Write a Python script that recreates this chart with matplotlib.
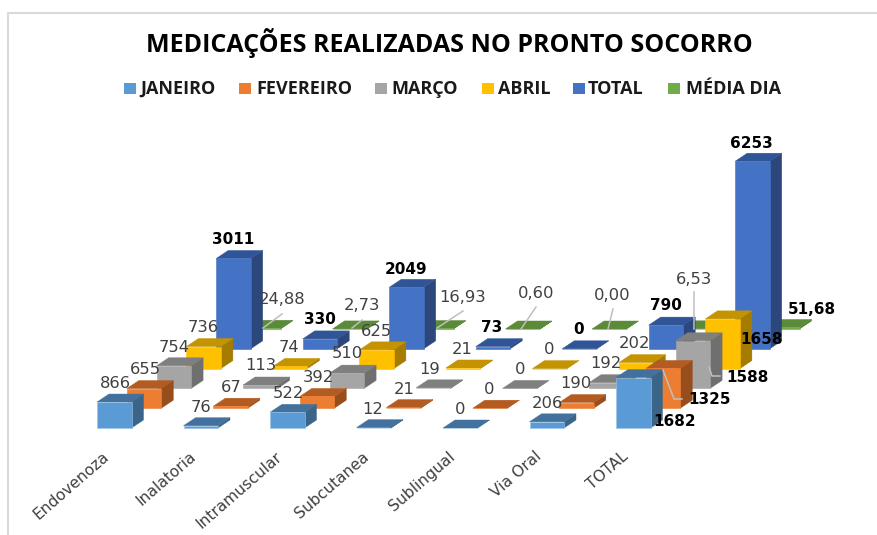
import matplotlib
matplotlib.use("Agg")
import matplotlib.pyplot as plt
from matplotlib.patches import Rectangle
from matplotlib.transforms import Affine2D

W, H = 877, 535

categories = ['Endovenoza', 'Inalatoria', 'Intramuscular', 'Subcutanea', 'Sublingual', 'Via Oral', 'TOTAL']
series = ['JANEIRO', 'FEVEREIRO', 'MARÇO', 'ABRIL', 'TOTAL', 'MÉDIA DIA']

janeiro = [866, 76, 522, 12, 0, 206, 1682]
fevereiro = [655, 67, 392, 21, 0, 190, 1325]
marco = [754, 113, 510, 19, 0, 192, 1588]
abril = [736, 74, 625, 21, 0, 202, 1658]
total = [3011, 330, 2049, 73, 0, 790, 6253]
media_dia = [24.88, 2.73, 16.93, 0.60, 0.00, 6.53, 51.68]
rows = [janeiro, fevereiro, marco, abril, total, media_dia]

# front, top, side
colors = [('#5B9BD5', '#41719C', '#3A6488'),
          ('#ED7D31', '#B35B20', '#984D1C'),
          ('#A5A5A5', '#7F7F7F', '#6F6F6F'),
          ('#FFC000', '#C49400', '#A67C00'),
          ('#4472C4', '#2F5597', '#2B477B'),
          ('#70AD47', '#5B8A38', '#4D7A30')]

# label centres in pixels, one list per series
label_pos = [
    [(115, 383), (201, 407), (288, 394), (373, 409), (460, 409), (547, 404), (675, 422)],
    [(145, 370), (231, 387), (318, 377), (404, 390), (489, 389), (576, 384), (710, 400)],
    [(174, 347), (261, 366), (347, 354), (430, 369), (520, 369), (606, 364), (748, 377)],
    [(203, 328), (289, 347), (376, 331), (462, 349), (549, 350), (635, 344), (762, 339)],
    [(233, 239), (320, 319), (406, 269), (492, 328), (579, 329), (666, 306), (751, 143)],
    [(282, 300), (362, 306), (463, 297), (536, 293), (612, 296), (694, 279), (812, 309)],
]

leaders = [
    [(282, 314), (263, 328)],
    [(362, 320), (352, 328)],
    [(463, 311), (437, 328)],
    [(536, 307), (521, 329)],
    [(613, 309), (608, 329)],
    [(694, 292), (694, 329)],
    [(682, 399), (674, 399), (663, 370)],
    [(720, 376), (712, 376), (709, 367)],
]

legend_pos = [(124, 140), (239, 256), (375, 391), (482, 498), (573, 588), (668, 686)]

# pixels per category, pixels per value unit, oblique step of one series row
px_cat = 86.5
px_val = 0.03
row_dx = 29.8 / px_cat
row_dy = 19.8 / px_val
bar_w = 34.5 / px_cat
bar_dx = 12 / px_cat
bar_dy = 8 / px_val

fig = plt.figure(figsize=(W / 100, H / 100), dpi=100)
ax = fig.add_axes([0, 0, 1, 1])
ax.set_xlim(-97 / px_cat, (W - 97) / px_cat)
ax.set_ylim(-(H - 428) / px_val, 428 / px_val)
ax.axis('off')

px = Affine2D().scale(1 / W, -1 / H).translate(0, 1) + fig.transFigure


def draw_bar(c, r, v, cols):
    x0 = c + r * row_dx
    y0 = r * row_dy
    x1 = x0 + bar_w
    top = y0 + v
    ax.fill([x1, x1 + bar_dx, x1 + bar_dx, x1], [y0, y0 + bar_dy, top + bar_dy, top], color=cols[2], lw=0.3, zorder=2 + 6 - r)
    ax.fill([x0, x1, x1 + bar_dx, x0 + bar_dx], [top, top, top + bar_dy, top + bar_dy], color=cols[1], lw=0.3, zorder=2 + 6 - r)
    ax.fill([x0, x1, x1, x0], [y0, y0, top, top], facecolor=cols[0], edgecolor='#9DC3E6' if r == 0 else cols[0], lw=0.4, zorder=2 + 6 - r)


for r in range(len(rows) - 1, -1, -1):
    for c, v in enumerate(rows[r]):
        draw_bar(c, r, v, colors[r])

for pts in leaders:
    ax.plot([p[0] for p in pts], [p[1] for p in pts], color='#BFBFBF', lw=1.1, transform=px, zorder=9)

for r, vals in enumerate(rows):
    for c, v in enumerate(vals):
        txt = f'{v:.2f}'.replace('.', ',') if r == 5 else str(v)
        bold = r == 4 or c == 6
        ax.text(label_pos[r][c][0], label_pos[r][c][1], txt, transform=px, ha='center', va='center',
                fontsize=11 if bold else 11.8, fontweight='bold' if bold else 'normal',
                color='#000000' if bold else '#404040', zorder=10)

for c, name in enumerate(categories):
    ax.text(c + 0.06, -21 / px_val, name, rotation=41, rotation_mode='anchor', ha='right', va='top',
            fontsize=11.2, color='#404040', zorder=10)

ax.text(449, 43, 'MEDICAÇÕES REALIZADAS NO PRONTO SOCORRO', transform=px, ha='center', va='center',
        fontsize=18, fontweight='bold', family='Open Sans', color='#000000')

for i, name in enumerate(series):
    ax.add_patch(Rectangle((legend_pos[i][0], 83), 12, 11, transform=px, color=colors[i][0], lw=0))
    ax.text(legend_pos[i][1], 89, name, transform=px, ha='left', va='center', fontsize=13,
            fontweight='bold', family='Open Sans', color='#1A1A1A')

# chart area frame
ax.plot([8, 8, W], [H, 13, 13], color='#D9D9D9', lw=1.5, transform=px, zorder=1)

fig.savefig('out.png', dpi=100)
plt.close(fig)
